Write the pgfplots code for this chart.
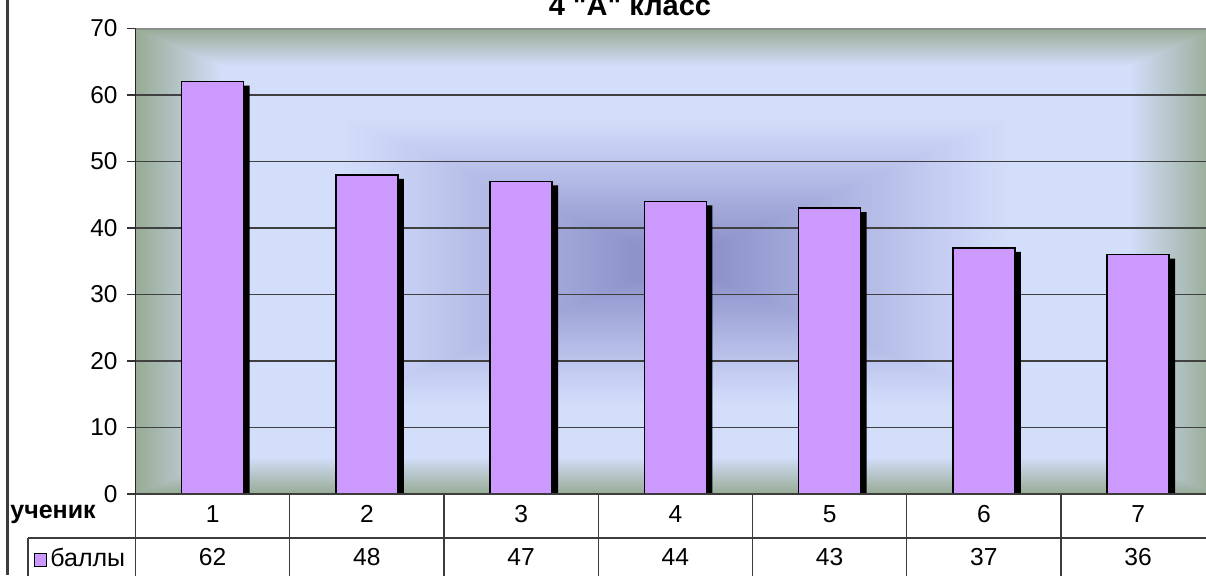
\documentclass[border=0pt]{standalone}
\usepackage{fontspec}
\setmainfont{Liberation Sans}[Ligatures=TeXOff]
\usepackage{pgfplots}
\pgfplotsset{compat=1.18}
\definecolor{dk}{RGB}{142,148,202}
\definecolor{m1}{RGB}{165,172,220}
\definecolor{m2}{RGB}{198,207,243}
\definecolor{lb}{RGB}{211,222,250}
\definecolor{gr}{RGB}{151,171,149}
\definecolor{barc}{RGB}{204,153,255}
\definecolor{tblc}{RGB}{60,60,60}
\pgfdeclareverticalshading{sup}{100bp}{color(0bp)=(dk); color(25bp)=(dk); color(29bp)=(dk); color(37.5bp)=(m1); color(50bp)=(m2); color(56bp)=(lb); color(67bp)=(lb); color(75bp)=(gr); color(100bp)=(gr)}
\pgfdeclareverticalshading{sdown}{100bp}{color(0bp)=(gr); color(25bp)=(gr); color(33bp)=(lb); color(44bp)=(lb); color(50bp)=(m2); color(62.5bp)=(m1); color(71bp)=(dk); color(75bp)=(dk); color(100bp)=(dk)}
\pgfdeclarehorizontalshading{hup}{100bp}{color(0bp)=(dk); color(25bp)=(dk); color(29bp)=(dk); color(37.5bp)=(m1); color(50bp)=(m2); color(56bp)=(lb); color(67bp)=(lb); color(75bp)=(gr); color(100bp)=(gr)}
\pgfdeclarehorizontalshading{hdown}{100bp}{color(0bp)=(gr); color(25bp)=(gr); color(33bp)=(lb); color(44bp)=(lb); color(50bp)=(m2); color(62.5bp)=(m1); color(71bp)=(dk); color(75bp)=(dk); color(100bp)=(dk)}
\begin{document}
\begin{tikzpicture}
\clip[use as bounding box] (0pt,0pt) rectangle (603pt,-287.5pt);
\fill[white] (0pt,0pt) rectangle (603pt,-287.5pt);
\begin{scope}[x=0.5pt,y=-0.5pt]
% plot area background (rectangular gradient), drawn twice to hide seams
\foreach \pass in {1,2,3} {
\shade[shading=sup]   (135.5,28.5) -- (1215.25,28.5) -- (675.4,261.25) -- cycle;
\shade[shading=sdown] (135.5,494) -- (1215.25,494) -- (675.4,261.25) -- cycle;
\shade[shading=hdown] (135.5,28.5) -- (135.5,494) -- (675.4,261.25) -- cycle;
\shade[shading=hup]   (1215.25,28.5) -- (1215.25,494) -- (675.4,261.25) -- cycle;
}
\end{scope}
\begin{axis}[
  at={(67.75pt,-247pt)}, anchor=south west,
  scale only axis, width=539.875pt, height=232.75pt,
  xmin=-0.5, xmax=6.5, ymin=0, ymax=70,
  ytick={0,10,...,70}, xtick=\empty,
  ymajorgrids, grid style={draw=black!75, line width=0.6pt},
  axis line style={draw=none},
  tick align=outside, ytick pos=left, major tick length=4pt,
  ytick style={draw=black!80, line width=0.6pt},
  yticklabel style={font=\fontsize{12.2}{14}\selectfont, xshift=-1.5pt},
  /pgf/number format/assume math mode=true,
]
\addplot[ybar, bar width=0.402, fill=barc, draw=black, line width=0.7pt,
  preaction={fill=black, draw=none, transform canvas={xshift=3pt,yshift=-2pt}}]
  coordinates {(0,62) (1,48) (2,47) (3,44) (4,43) (5,37) (6,36)};
\end{axis}
\begin{scope}[x=0.5pt,y=-0.5pt]
% frame lines
\draw[black!45, line width=1pt] (135.5,28.5) -- (1215,28.5);
\draw[black!85, line width=0.6pt] (135.5,28.5) -- (135.5,494);
\draw[tblc, line width=1.1pt] (7.5,0) -- (7.5,575);
% data table
\draw[tblc, line width=0.6pt] (135.5,494) -- (1215,494);
\draw[tblc, line width=0.6pt] (28,538) -- (1215,538);
\draw[tblc, line width=0.6pt] (28,538) -- (28,580);
\foreach \k in {0,...,6} {
  \draw[tblc, line width=0.6pt] ({135.5+154.25*\k},494) -- ({135.5+154.25*\k},580);
}
\node[font=\bfseries\fontsize{12.5}{14}\selectfont, anchor=west, inner sep=0pt] at (10,514) {ученик};
\fill[barc, draw=black, line width=0.5pt] (34,553) rectangle (46,566);
\node[font=\fontsize{12.5}{14}\selectfont, anchor=west, inner sep=0pt] at (50,557) {баллы};
\foreach \n/\v [count=\k from 0] in {1/62,2/48,3/47,4/44,5/43,6/37,7/36} {
  \node[font=\fontsize{12.3}{14}\selectfont, inner sep=0pt] at ({212.6+154.25*\k},514) {\n};
  \node[font=\fontsize{12.3}{14}\selectfont, inner sep=0pt] at ({212.6+154.25*\k},557) {\v};
}
% title
\node[font=\bfseries\fontsize{14.5}{16}\selectfont, anchor=base, inner sep=0pt] at (630,15) {4 "А" класс};
\end{scope}
\end{tikzpicture}
\end{document}
